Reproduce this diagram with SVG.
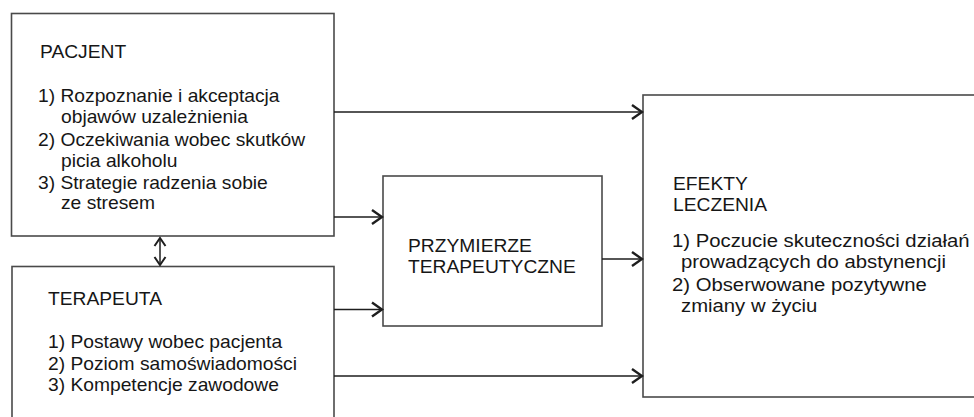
<svg xmlns="http://www.w3.org/2000/svg" width="974" height="417" viewBox="0 0 974 417">
<style>
.box{fill:#fff;stroke:#4a4a4a;stroke-width:1.6}
.t{font-family:"Liberation Sans",Arial,sans-serif;font-size:17.5px;fill:#161616}
.c{fill:none;stroke:#1e1e1e;stroke-width:1.5}
</style>
<defs>
<marker id="ah" markerUnits="userSpaceOnUse" markerWidth="14" markerHeight="18" viewBox="-12 -9 14 18" refX="0" refY="0" orient="auto-start-reverse">
<path d="M-10,-7 L0,0 L-10,7" fill="none" stroke="#1e1e1e" stroke-width="2.4"/>
</marker>
<marker id="ah2" markerUnits="userSpaceOnUse" markerWidth="12" markerHeight="14" viewBox="-10 -7 12 14" refX="0" refY="0" orient="auto-start-reverse">
<path d="M-8,-5.5 L0,0 L-8,5.5" fill="none" stroke="#1e1e1e" stroke-width="2"/>
</marker>
</defs>
<rect width="974" height="417" fill="#fff"/>
<g id="pacjent">
<rect class="box" x="11.5" y="13.5" width="322.5" height="222.5"/>
<text class="t" transform="translate(40 0) scale(1.1 1)" y="58">PACJENT</text>
<text class="t" transform="translate(38 0) scale(1.1 1)" y="102">1) Rozpoznanie i akceptacja</text>
<text class="t" transform="translate(61 0) scale(1.1 1)" y="123">objawów uzależnienia</text>
<text class="t" transform="translate(38 0) scale(1.1 1)" y="146">2) Oczekiwania wobec skutków</text>
<text class="t" transform="translate(61 0) scale(1.1 1)" y="167">picia alkoholu</text>
<text class="t" transform="translate(38 0) scale(1.1 1)" y="189">3) Strategie radzenia sobie</text>
<text class="t" transform="translate(61 0) scale(1.1 1)" y="209">ze stresem</text>
</g>
<g id="terapeuta">
<rect class="box" x="12" y="266.5" width="322" height="170"/>
<text class="t" transform="translate(48 0) scale(1.1 1)" y="305">TERAPEUTA</text>
<text class="t" transform="translate(48 0) scale(1.1 1)" y="348">1) Postawy wobec pacjenta</text>
<text class="t" transform="translate(48 0) scale(1.1 1)" y="370">2) Poziom samoświadomości</text>
<text class="t" transform="translate(48 0) scale(1.1 1)" y="391">3) Kompetencje zawodowe</text>
</g>
<g id="przymierze">
<rect class="box" x="383" y="176" width="219" height="150"/>
<text class="t" transform="translate(408 0) scale(1.1 1)" y="252">PRZYMIERZE</text>
<text class="t" transform="translate(408 0) scale(1.1 1)" y="273">TERAPEUTYCZNE</text>
</g>
<g id="efekty">
<rect class="box" x="643" y="95" width="345" height="302"/>
<text class="t" transform="translate(673 0) scale(1.1 1)" y="190">EFEKTY</text>
<text class="t" transform="translate(673 0) scale(1.1 1)" y="211">LECZENIA</text>
<text class="t" transform="translate(672 0) scale(1.16 1)" y="247">1) Poczucie skuteczności działań</text>
<text class="t" transform="translate(681 0) scale(1.16 1)" y="268">prowadzących do abstynencji</text>
<text class="t" transform="translate(672 0) scale(1.16 1)" y="291">2) Obserwowane pozytywne</text>
<text class="t" transform="translate(681 0) scale(1.16 1)" y="312">zmiany w życiu</text>
</g>
<g id="connectors">
<path class="c" d="M334,112 H642" marker-end="url(#ah)"/>
<path class="c" d="M334,217 H382" marker-end="url(#ah)"/>
<path class="c" d="M334,309.5 H382" marker-end="url(#ah)"/>
<path class="c" d="M334,376 H642" marker-end="url(#ah)"/>
<path class="c" d="M602,259 H642" marker-end="url(#ah)"/>
<path class="c" d="M160,238 V265" marker-start="url(#ah2)" marker-end="url(#ah2)"/>
</g>
</svg>
